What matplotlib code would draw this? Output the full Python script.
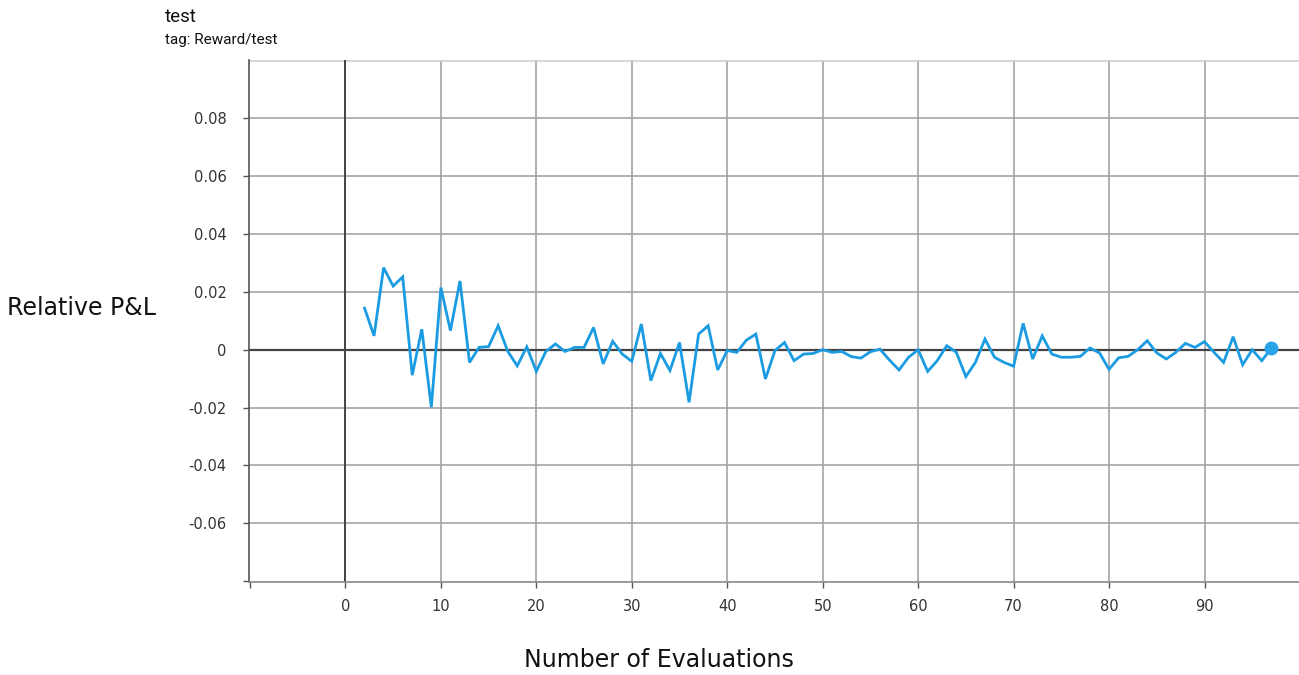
import numpy as np
import matplotlib
matplotlib.use("Agg")
import matplotlib.pyplot as plt

# evaluation step and smoothed reward/test value
steps = list(range(2, 98))
reward = [0.0144, 0.0048, 0.0284, 0.0220, 0.0252, -0.0088, 0.0071, -0.0199, 0.0215, 0.0066,
          0.0238, -0.0044, 0.0008, 0.0011, 0.0083, -0.0005, -0.0056, 0.0010, -0.0075, -0.0006,
          0.0020, -0.0006, 0.0008, 0.0008, 0.0077, -0.0049, 0.0029, -0.0015, -0.0040, 0.0089,
          -0.0107, -0.0013, -0.0072, 0.0025, -0.0182, 0.0054, 0.0083, -0.0070, -0.0003, -0.0009,
          0.0033, 0.0054, -0.0101, -0.0003, 0.0025, -0.0038, -0.0015, -0.0013, 0.0000, -0.0009,
          -0.0006, -0.0024, -0.0029, -0.0007, 0.0002, -0.0036, -0.0070, -0.0026, 0.0000, -0.0075,
          -0.0038, 0.0014, -0.0009, -0.0093, -0.0044, 0.0037, -0.0026, -0.0044, -0.0057, 0.0091,
          -0.0032, 0.0048, -0.0015, -0.0026, -0.0026, -0.0023, 0.0006, -0.0011, -0.0068, -0.0028,
          -0.0023, 0.0000, 0.0031, -0.0011, -0.0032, -0.0009, 0.0022, 0.0008, 0.0028, -0.0009,
          -0.0044, 0.0045, -0.0052, 0.0000, -0.0038, 0.0005]

xticks = list(range(0, 100, 10))
xlabels = [str(v) for v in xticks]
yticks = [-0.06, -0.04, -0.02, 0, 0.02, 0.04, 0.06, 0.08]
ylabels = ["-0.06", "-0.04", "-0.02", "0", "0.02", "0.04", "0.06", "0.08"]

fig = plt.figure(figsize=(12.99, 6.75), dpi=100)
ax = fig.add_axes([0.1917, 0.138, 0.8083, 0.773])

line_color = "#1b9ce2"

# grid
for xv in xticks:
    ax.axvline(xv, color="#a4a4a4", lw=1.2, zorder=0)
for yv in yticks + [0.1]:
    ax.axhline(yv, color="#a4a4a4" if yv < 0.09 else "#d0d0d0", lw=1.2, zorder=0)
ax.axvline(0, color="#444444", lw=1.4, zorder=1)
ax.axhline(0, color="#444444", lw=1.6, zorder=1)

ax.plot(steps, reward, color=line_color, lw=2.0, zorder=3, solid_joinstyle="miter")
ax.plot(steps[-1], reward[-1], "o", color="#2aa4e8", ms=9, zorder=4)

ax.set_xlim(-10.1, 99.9)
ax.set_ylim(-0.0803, 0.1002)

ax.set_xticks([-10] + xticks)
ax.set_xticklabels([""] + xlabels)
ax.set_yticks([-0.08] + yticks)
ax.set_yticklabels([""] + ylabels)
ax.tick_params(axis="both", labelsize=10.5, colors="#555555", labelcolor="#333333",
               length=4, width=1, direction="out", pad=8)
ax.tick_params(axis="y", pad=12)

for side in ["top", "right"]:
    ax.spines[side].set_visible(False)
ax.spines["left"].set_color("#555555")
ax.spines["bottom"].set_color("#888888")
ax.spines["left"].set_linewidth(1.2)
ax.spines["bottom"].set_linewidth(1.2)

fig.text(0.127, 0.967, "test", fontsize=13.5, family="Roboto", color="#111111")
fig.text(0.127, 0.935, "tag: Reward/test", fontsize=11, family="Roboto", color="#111111")
fig.text(0.0055, 0.543, "Relative P&L", fontsize=17, color="#111111", va="center")
fig.text(0.507, 0.012, "Number of Evaluations", fontsize=17, color="#111111", ha="center")

fig.savefig("out.png", dpi=100)
